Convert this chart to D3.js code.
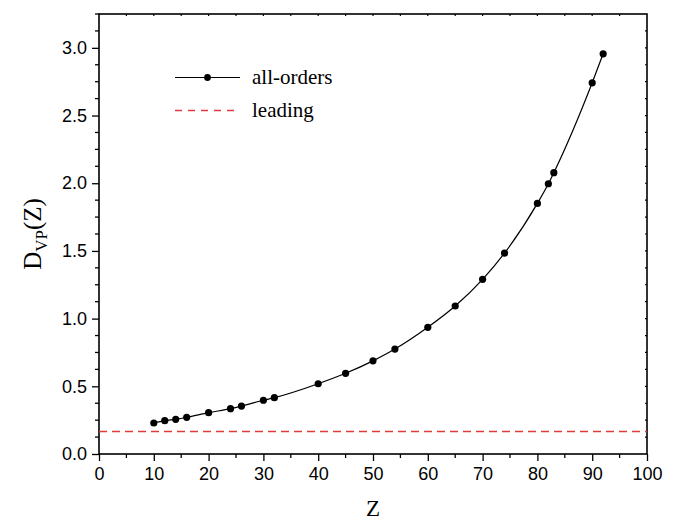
<!DOCTYPE html>
<html>
<head>
<meta charset="utf-8">
<script src="https://cdn.jsdelivr.net/npm/d3@7"></script>
<style>
  body { margin: 0; background: #fff; }
  .tick text { font-family: "Liberation Sans", Arial, sans-serif; }
</style>
</head>
<body>
<div id="vis"></div>
<script>
// data
const zValues = [10, 12, 14, 16, 20, 24, 26, 30, 32, 40, 45, 50, 54, 60, 65, 70, 74, 80, 82, 83, 90, 92]
const dValues = [0.229, 0.246, 0.256, 0.271, 0.305, 0.335, 0.354, 0.397, 0.416, 0.519, 0.596, 0.688,
                 0.775, 0.936, 1.093, 1.290, 1.484, 1.851, 1.996, 2.078, 2.742, 2.956]
const leadingValue = 0.17
const xTicks = [0, 10, 20, 30, 40, 50, 60, 70, 80, 90, 100]
const yTicks = [0, 0.5, 1.0, 1.5, 2.0, 2.5, 3.0]
const legendLabels = ["all-orders", "leading"]

const margin = {left: 99, top: 14, right: 38, bottom: 68}
const W = 685, H = 522
const width = W - margin.left - margin.right
const height = H - margin.top - margin.bottom
const dashColor = "#de3b3b"

const svg = d3.select("#vis").append("svg")
    .attr("width", W)
    .attr("height", H)

const g = svg.append("g").attr("transform", `translate(${margin.left},${margin.top})`)

const x = d3.scaleLinear().domain([0, 100]).range([0, width])
const y = d3.scaleLinear().domain([0, 3.25]).range([height, 0])

const data = zValues.map((z, i) => ({z: z, d: dValues[i]}))

// minor ticks
const xMinor = d3.range(5, 100, 10)
const yMinor = d3.range(0, 3.26, 0.125).filter(v => Math.abs(v * 2 - Math.round(v * 2)) > 1e-6)

// bottom axis
const xAxis = g.append("g")
    .attr("transform", `translate(0,${height})`)
    .call(d3.axisBottom(x).tickValues(xTicks).tickSize(7).tickPadding(6).tickFormat(d3.format("d")))
xAxis.selectAll("text").style("font-size", "18px").attr("fill", "#000")
xAxis.selectAll(".tick line").attr("stroke-width", 1.3)
xAxis.select(".domain").remove()
g.append("g").attr("transform", `translate(0,${height})`)
  .selectAll("line").data(xMinor).enter().append("line")
    .attr("x1", d => x(d)).attr("x2", d => x(d))
    .attr("y1", 0).attr("y2", 4)
    .attr("stroke", "#000").attr("stroke-width", 1.3)

// left axis
const yAxis = g.append("g")
    .call(d3.axisLeft(y).tickValues(yTicks).tickSize(7).tickPadding(5).tickFormat(d3.format(".1f")))
yAxis.selectAll("text").style("font-size", "18px").attr("fill", "#000")
yAxis.selectAll(".tick line").attr("stroke-width", 1.3)
yAxis.select(".domain").remove()
g.append("g")
  .selectAll("line").data(yMinor).enter().append("line")
    .attr("x1", -4).attr("x2", 0)
    .attr("y1", d => y(d)).attr("y2", d => y(d))
    .attr("stroke", "#000").attr("stroke-width", 1.3)

// top + right tiny inward ticks
g.append("g").selectAll("line").data(d3.range(5, 100, 5)).enter().append("line")
    .attr("x1", d => x(d)).attr("x2", d => x(d))
    .attr("y1", 0).attr("y2", 2)
    .attr("stroke", "#000").attr("stroke-width", 1.2)
g.append("g").selectAll("line").data(d3.range(0.125, 3.25, 0.125)).enter().append("line")
    .attr("x1", width - 2).attr("x2", width)
    .attr("y1", d => y(d)).attr("y2", d => y(d))
    .attr("stroke", "#000").attr("stroke-width", 1.2)

// frame
g.append("rect")
    .attr("width", width).attr("height", height)
    .attr("fill", "none").attr("stroke", "#000").attr("stroke-width", 1.6)

// leading (dashed), nudged half a pixel so it renders crisp
g.append("line")
    .attr("x1", 0).attr("x2", width)
    .attr("y1", Math.round(y(leadingValue)) + 0.5).attr("y2", Math.round(y(leadingValue)) + 0.5)
    .attr("stroke", dashColor).attr("stroke-width", 1.3)
    .attr("stroke-dasharray", "8,5")

// all-orders curve
const line = d3.line().x(d => x(d.z)).y(d => y(d.d)).curve(d3.curveMonotoneX)
g.append("path").datum(data)
    .attr("d", line)
    .attr("fill", "none").attr("stroke", "#000").attr("stroke-width", 1.2)

g.selectAll("circle.pt").data(data).enter().append("circle")
    .attr("class", "pt")
    .attr("cx", d => x(d.z)).attr("cy", d => y(d.d))
    .attr("r", 3.6).attr("fill", "#000")

// legend
const leg = svg.append("g")
leg.append("line").attr("x1", 175).attr("x2", 240).attr("y1", 77.5).attr("y2", 77.5)
    .attr("stroke", "#000").attr("stroke-width", 1.2)
leg.append("circle").attr("cx", 207.5).attr("cy", 77.5).attr("r", 3.4).attr("fill", "#000")
leg.append("line").attr("x1", 175).attr("x2", 240).attr("y1", 110.5).attr("y2", 110.5)
    .attr("stroke", dashColor).attr("stroke-width", 1.3).attr("stroke-dasharray", "7,6")
leg.selectAll("text").data(legendLabels).enter().append("text")
    .attr("x", 252).attr("y", (d, i) => 84 + i * 33)
    .style("font-family", "'Liberation Serif', 'Times New Roman', serif")
    .style("font-size", "21px")
    .text(d => d)

// axis titles
svg.append("text")
    .attr("x", margin.left + width / 2).attr("y", 516)
    .attr("text-anchor", "middle")
    .style("font-family", "'Liberation Serif', 'Times New Roman', serif")
    .style("font-size", "23px")
    .text("Z")

const yt = svg.append("text")
    .attr("transform", `translate(41,${margin.top + height / 2}) rotate(-90)`)
    .attr("text-anchor", "middle")
    .style("font-family", "'Liberation Serif', 'Times New Roman', serif")
    .style("font-size", "25px")
yt.append("tspan").text("D")
yt.append("tspan").attr("dy", 6).style("font-size", "17px").text("VP")
yt.append("tspan").attr("dy", -6).text("(Z)")
</script>
</body>
</html>
